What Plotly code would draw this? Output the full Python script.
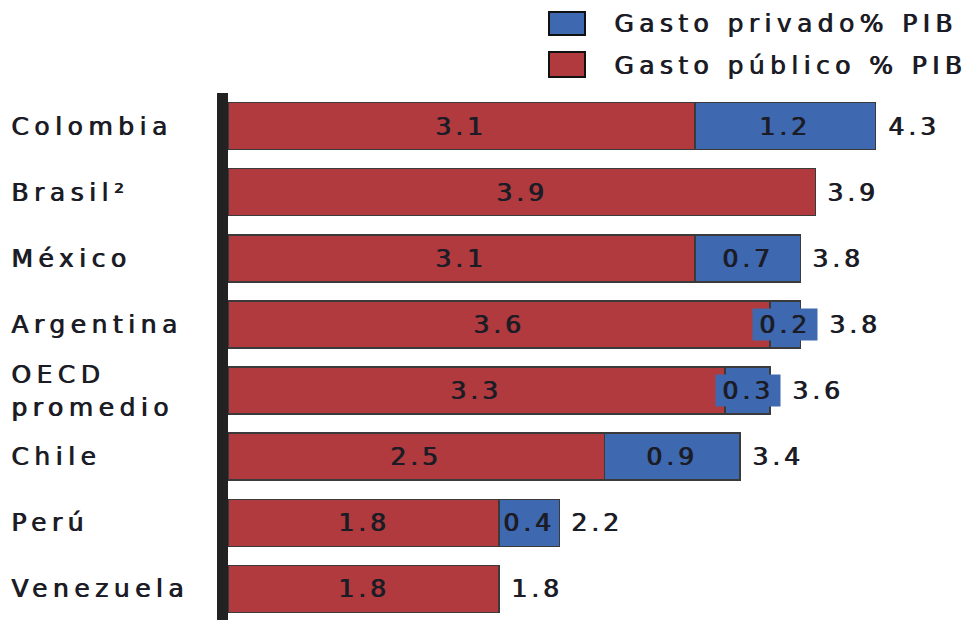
import plotly.graph_objects as go

# ---- data ----
categories = ["Colombia", "Brasil²", "México", "Argentina", "OECD<br>promedio", "Chile", "Perú", "Venezuela"]
gasto_publico = [3.1, 3.9, 3.1, 3.6, 3.3, 2.5, 1.8, 1.8]
gasto_privado = [1.2, None, 0.7, 0.2, 0.3, 0.9, 0.4, None]
totales = [4.3, 3.9, 3.8, 3.8, 3.6, 3.4, 2.2, 1.8]
series_names = ["Gasto privado% PIB", "Gasto público % PIB"]

# ---- style ----
RED = "#B03A3D"
BLUE = "#3E68B0"
OUTLINE = "#3a3a3a"
TXT = "#1c1c26"
FONT = "DejaVu Sans"
FS = 25
W, H = 967, 620
ML, MR, MT, MB = 228, 0, 93, 0
XMAX = 4.907
px_per_unit = (W - ML - MR) / XMAX
BOX_W, BOX_H = 64, 31


def sp(t, ls=4):
    return ('<span style="letter-spacing:' + str(ls) + 'px;text-shadow:0.9px 0 0 ' + TXT + '">'
            + t + "</span>")


def spaced(label, ls=5.5):
    return "<br>".join(sp(p, ls) for p in label.split("<br>"))


fig = go.Figure()
fig.add_trace(go.Bar(
    y=categories, x=gasto_publico, orientation="h", name=series_names[1],
    marker=dict(color=RED, line=dict(color=OUTLINE, width=1.5)),
    hoverinfo="skip",
))
fig.add_trace(go.Bar(
    y=categories, x=gasto_privado, orientation="h", name=series_names[0],
    marker=dict(color=BLUE, line=dict(color=OUTLINE, width=1.5)),
    hoverinfo="skip",
))

annotations = []
font = dict(family=FONT, size=FS, color=TXT)
for cat, pub, priv, tot in zip(categories, gasto_publico, gasto_privado, totales):
    # category label
    annotations.append(dict(
        xref="paper", x=0, xshift=-219, xanchor="left", yref="y", y=cat,
        text=spaced(cat), showarrow=False, align="left", font=font,
    ))
    # public segment
    annotations.append(dict(
        xref="x", x=pub / 2, yref="y", y=cat, text=sp(f"{pub:.1f}"),
        showarrow=False, font=font, xanchor="center",
    ))
    overhang = 0
    # private segment
    if priv:
        seg_px = priv * px_per_unit
        ann = dict(
            xref="x", x=pub + priv / 2, yref="y", y=cat, text=sp(f"{priv:.1f}"),
            showarrow=False, font=font, xanchor="center",
        )
        if seg_px < 50:
            ann.update(bgcolor=BLUE, borderpad=0, width=BOX_W, height=BOX_H)
            overhang = BOX_W / 2 - seg_px / 2
        annotations.append(ann)
    # total
    annotations.append(dict(
        xref="x", x=tot, xshift=10 + overhang, xanchor="left", yref="y", y=cat,
        text=sp(f"{tot:.1f}"), showarrow=False, font=font,
    ))

# legend (manual)
plot_w = W - ML - MR
plot_h = H - MT - MB


def px_to_paper_x(px):
    return (px - ML) / plot_w


def px_to_paper_y(py):
    return (H - MB - py) / plot_h


shapes = [
    # thick vertical axis line
    dict(type="rect", xref="paper", xsizemode="pixel", xanchor=0, x0=-11, x1=0,
         yref="paper", y0=0, y1=1, fillcolor="#222222", line=dict(width=0), layer="above"),
]
legend_items = [(series_names[0], BLUE, 12, 35, 23), (series_names[1], RED, 52, 77, 66)]
for name, col, ytop, ybot, ymid in legend_items:
    shapes.append(dict(
        type="rect", xref="paper", yref="paper",
        x0=px_to_paper_x(549), x1=px_to_paper_x(585),
        y0=px_to_paper_y(ybot), y1=px_to_paper_y(ytop),
        fillcolor=col, line=dict(color="#111111", width=2),
    ))
    annotations.append(dict(
        xref="paper", yref="paper", x=px_to_paper_x(612), y=px_to_paper_y(ymid),
        xanchor="left", yanchor="middle", text=sp(name, 5.4), showarrow=False, font=font,
    ))

fig.update_layout(
    width=W, height=H,
    margin=dict(l=ML, r=MR, t=MT, b=MB, pad=0),
    barmode="stack", bargap=0.29,
    plot_bgcolor="white", paper_bgcolor="white",
    showlegend=False,
    xaxis=dict(range=[0, XMAX], visible=False, fixedrange=True),
    yaxis=dict(range=[7.47, -0.5], showticklabels=False, showgrid=False,
               zeroline=False, showline=False, ticks="", fixedrange=True),
    annotations=annotations, shapes=shapes,
    font=font,
)

fig.write_html(
    "out.html",
    config={"displayModeBar": False},
    post_script="document.body.style.margin='0';document.body.style.overflow='hidden';",
)
